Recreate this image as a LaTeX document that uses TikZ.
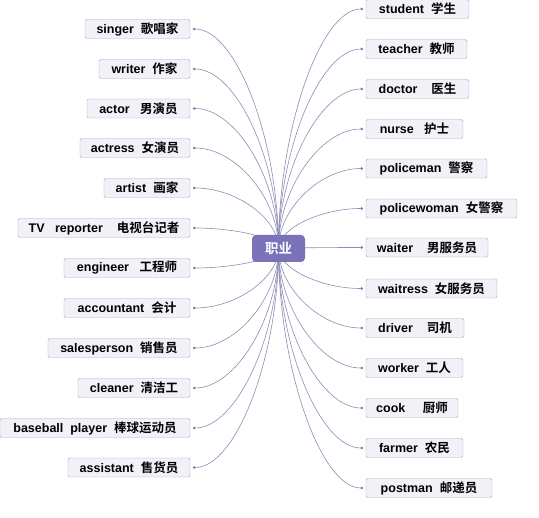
\documentclass[tikz,border=0pt]{standalone}
\usepackage{fontspec}
\setmainfont{Liberation Sans}
\newfontfamily\cjk{Noto Sans CJK SC}[BoldFont={Noto Sans CJK SC Bold}]
\usetikzlibrary{calc,arrows.meta,backgrounds}
\definecolor{boxfill}{HTML}{F2F1F8}
\definecolor{boxline}{HTML}{A9A7C7}
\definecolor{hubfill}{HTML}{7B73B9}
\definecolor{linkline}{HTML}{8E8BB6}
\definecolor{dotgray}{HTML}{7D7B93}

\begin{document}
\begin{tikzpicture}[x=1pt,y=-1pt,
    job/.style={draw=boxline,fill=boxfill,rounded corners=1.5pt,minimum height=19pt,
      inner sep=0pt,outer xsep=3pt,font=\bfseries\fontsize{12.5}{14}\selectfont},
    leftjob/.style={job,anchor=east,minimum width=#1pt},
    rightjob/.style={job,anchor=west,minimum width=#1pt},
    link/.style={draw=linkline,line width=0.6pt,-{Circle[length=2.6pt,color=dotgray]},
      to path={.. controls ($(\tikztostart)!.5!(\tikztostart |- \tikztotarget)$)
        and ($(\tikztotarget)!.5!(\tikztostart |- \tikztotarget)$) .. (\tikztotarget)}}]
            \useasboundingbox (0,0) rectangle (539,518);

            \node[fill=hubfill,text=white,rounded corners=4pt,minimum width=53pt,minimum height=27pt,
              font=\bfseries\fontsize{13.5}{15}\selectfont] (zy) at (278.5,248.5) {\cjk 职业};

            \node[leftjob=105] (singer) at (193,29) {singer\ \ {\cjk 歌唱家}};
            \node[leftjob=91] (writer) at (193,69) {writer\ \ {\cjk 作家}};
            \node[leftjob=103] (actor) at (193,108.5) {actor\ \ \ {\cjk 男演员}};
            \node[leftjob=110] (actress) at (193,148) {actress\ \ {\cjk 女演员}};
            \node[leftjob=86] (artist) at (193,188) {artist\ \ {\cjk 画家}};
            \node[leftjob=172] (reporter) at (193,228) {TV\ \ \ reporter\ \ \ \ {\cjk 电视台记者}};
            \node[leftjob=126] (engineer) at (193,268) {engineer\ \ \ {\cjk 工程师}};
            \node[leftjob=126] (accountant) at (193,308) {accountant\ \ {\cjk 会计}};
            \node[leftjob=142] (salesperson) at (193,348) {salesperson\ \ {\cjk 销售员}};
            \node[leftjob=112] (cleaner) at (193,388) {cleaner\ \ {\cjk 清洁工}};
            \node[leftjob=190] (player) at (193,428) {baseball\ \ player\ \ {\cjk 棒球运动员}};
            \node[leftjob=122] (assistant) at (193,467.5) {assistant\ \ {\cjk 售货员}};

            \node[rightjob=103] (student) at (363,9) {student\ \ {\cjk 学生}};
            \node[rightjob=101] (teacher) at (363,49) {teacher\ \ {\cjk 教师}};
            \node[rightjob=103] (doctor) at (363,89) {doctor\ \ \ \ {\cjk 医生}};
            \node[rightjob=97] (nurse) at (363,129) {nurse\ \ \ {\cjk 护士}};
            \node[rightjob=121] (policeman) at (363,168.5) {policeman\ \ {\cjk 警察}};
            \node[rightjob=151] (policewoman) at (363,208.5) {policewoman\ \ {\cjk 女警察}};
            \node[rightjob=122] (waiter) at (363,247.5) {waiter\ \ \ \ {\cjk 男服务员}};
            \node[rightjob=131] (waitress) at (363,288.5) {waitress\ \ {\cjk 女服务员}};
            \node[rightjob=98] (driver) at (363,328) {driver\ \ \ \ {\cjk 司机}};
            \node[rightjob=97] (worker) at (363,368) {worker\ \ {\cjk 工人}};
            \node[rightjob=92] (cook) at (363,408) {cook\ \ \ \ \ {\cjk 厨师}};
            \node[rightjob=97] (farmer) at (363,448) {farmer\ \ {\cjk 农民}};
            \node[rightjob=126] (postman) at (363,488) {postman\ \ {\cjk 邮递员}};

            \begin{scope}[on background layer]
            \draw[link] (zy.center) to (singer.east);
            \draw[link] (zy.center) to (writer.east);
            \draw[link] (zy.center) to (actor.east);
            \draw[link] (zy.center) to (actress.east);
            \draw[link] (zy.center) to (artist.east);
            \draw[link] (zy.center) to (reporter.east);
            \draw[link] (zy.center) to (engineer.east);
            \draw[link] (zy.center) to (accountant.east);
            \draw[link] (zy.center) to (salesperson.east);
            \draw[link] (zy.center) to (cleaner.east);
            \draw[link] (zy.center) to (player.east);
            \draw[link] (zy.center) to (assistant.east);
            \draw[link] (zy.center) to (student.west);
            \draw[link] (zy.center) to (teacher.west);
            \draw[link] (zy.center) to (doctor.west);
            \draw[link] (zy.center) to (nurse.west);
            \draw[link] (zy.center) to (policeman.west);
            \draw[link] (zy.center) to (policewoman.west);
            \draw[link] (zy.center) to (waiter.west);
            \draw[link] (zy.center) to (waitress.west);
            \draw[link] (zy.center) to (driver.west);
            \draw[link] (zy.center) to (worker.west);
            \draw[link] (zy.center) to (cook.west);
            \draw[link] (zy.center) to (farmer.west);
            \draw[link] (zy.center) to (postman.west);
            \end{scope}
        \end{tikzpicture}
\end{document}
